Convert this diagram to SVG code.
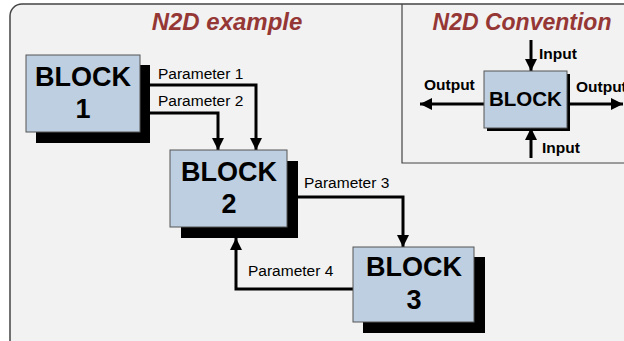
<svg xmlns="http://www.w3.org/2000/svg" width="624" height="341" viewBox="0 0 624 341">
<defs>
<marker id="arr" viewBox="0 0 10 10" refX="10" refY="5" markerWidth="4" markerHeight="4" orient="auto" markerUnits="strokeWidth">
<path d="M0,0 L10,5 L0,10 Z" fill="#000"/>
</marker>
</defs>
<style>
.blk{fill:#bdcfe1;stroke:#555;stroke-width:1}
.shd{fill:#000}
.bt{font-family:"Liberation Sans",Arial,sans-serif;font-weight:bold;font-size:27px;text-anchor:middle;fill:#000}
.ct{font-family:"Liberation Sans",Arial,sans-serif;font-weight:bold;font-size:20.5px;text-anchor:middle;fill:#000}
.lbl{font-family:"Liberation Sans",Arial,sans-serif;font-size:15.5px;fill:#000}
.io{font-family:"Liberation Sans",Arial,sans-serif;font-size:15.5px;font-weight:bold;fill:#000}
.ttl{font-family:"Liberation Sans",Arial,sans-serif;font-weight:bold;font-style:italic;fill:#953735}
.ln{fill:none;stroke:#000;stroke-width:3;marker-end:url(#arr)}
</style>
<rect width="624" height="341" fill="#fff"/>
<rect id="frame" x="10" y="4" width="650" height="350" rx="12" fill="#f2f2f2" stroke="#444" stroke-width="1.5"/>
<path d="M402,4 V163 H624" fill="none" stroke="#444" stroke-width="1.2"/>
<text class="ttl" x="227" y="30" font-size="24" text-anchor="middle">N2D example</text>
<text class="ttl" x="522" y="30" font-size="23" text-anchor="middle">N2D Convention</text>

<g id="connectors">
<polyline class="ln" points="150,85 256,85 256,150"/>
<polyline class="ln" points="150,113 218,113 218,150"/>
<polyline class="ln" points="298,197 403,197 403,247"/>
<polyline class="ln" points="353,289 236,289 236,238"/>
<line class="ln" x1="531" y1="40" x2="531" y2="71"/>
<line class="ln" x1="531" y1="158" x2="531" y2="128"/>
<line class="ln" x1="484" y1="104" x2="420" y2="104"/>
<line class="ln" x1="567" y1="104" x2="623" y2="104"/>
<text class="lbl" x="158" y="79">Parameter 1</text>
<text class="lbl" x="158" y="106">Parameter 2</text>
<text class="lbl" x="304" y="188">Parameter 3</text>
<text class="lbl" x="248" y="276">Parameter 4</text>
<text class="io" x="539" y="59">Input</text>
<text class="io" x="542" y="153">Input</text>
<text class="io" x="424" y="90">Output</text>
<text class="io" x="576" y="92">Output</text>
</g>

<g id="block1">
<rect class="shd" x="36" y="65" width="114" height="78"/>
<rect class="blk" x="26" y="55" width="114" height="77"/>
<text class="bt" x="83" y="86">BLOCK</text>
<text class="bt" x="83" y="118">1</text>
</g>
<g id="block2">
<rect class="shd" x="181" y="161" width="117" height="77"/>
<rect class="blk" x="170" y="150" width="117" height="77"/>
<text class="bt" x="229" y="181">BLOCK</text>
<text class="bt" x="229" y="213">2</text>
</g>
<g id="block3">
<rect class="shd" x="363" y="257" width="122" height="76"/>
<rect class="blk" x="353" y="247" width="121" height="75"/>
<text class="bt" x="414" y="276">BLOCK</text>
<text class="bt" x="414" y="309">3</text>
</g>
<g id="block-conv">
<rect class="shd" x="487" y="74" width="83" height="57"/>
<rect class="blk" x="484" y="71" width="83" height="57"/>
<text class="ct" x="525.5" y="106">BLOCK</text>
</g>
</svg>
